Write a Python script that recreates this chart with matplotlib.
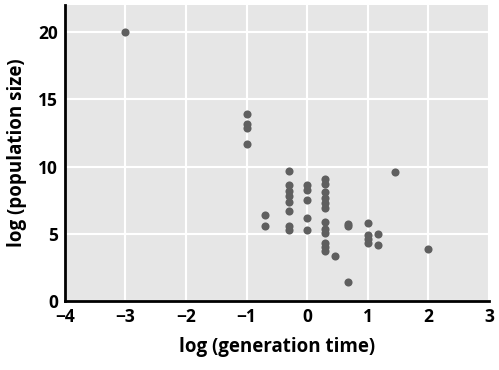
import matplotlib
matplotlib.use('Agg')
import matplotlib.pyplot as plt

# data
gen_time = [-3,
            -1, -1, -1, -1,
            -0.7, -0.7,
            -0.3, -0.3, -0.3, -0.3, -0.3, -0.3, -0.3, -0.3,
            0, 0, 0, 0, 0,
            0.3, 0.3, 0.3, 0.3, 0.3, 0.3, 0.3, 0.3, 0.3, 0.3, 0.3, 0.3,
            0.45,
            0.68, 0.68, 0.68,
            1, 1, 1, 1,
            1.17, 1.17,
            1.45,
            2]
pop_size = [20,
            13.9, 13.2, 12.9, 11.7,
            6.4, 5.6,
            9.7, 8.6, 8.2, 7.8, 7.4, 6.7, 5.6, 5.3,
            8.6, 8.3, 7.55, 6.2, 5.3,
            9.1, 8.7, 8.1, 7.7, 7.3, 6.9, 5.9, 5.4, 5.1, 4.3, 4.0, 3.7,
            3.35,
            5.75, 5.6, 1.4,
            5.8, 4.95, 4.65, 4.3,
            5.0, 4.2,
            9.6,
            3.9]
xticks = [-4, -3, -2, -1, 0, 1, 2, 3]
yticks = [0, 5, 10, 15, 20]

plt.rcParams['font.family'] = ['Open Sans', 'DejaVu Sans']

fig = plt.figure(figsize=(4.99, 3.70), dpi=100)
ax = fig.add_axes([0.130, 0.186, 0.850, 0.800])
ax.set_facecolor('#e6e6e6')

ax.scatter(gen_time, pop_size, s=34, color='#5f5f5f', linewidths=0, zorder=3)

ax.set_xlim(-4, 3)
ax.set_ylim(0, 22)
ax.set_xticks(xticks)
ax.set_yticks(yticks)
ax.set_xticklabels([str(t).replace('-', '\u2212') for t in xticks], fontweight='bold', fontsize=12.5)
ax.set_yticklabels([str(t) for t in yticks], fontweight='bold', fontsize=12.5)
ax.tick_params(length=0, pad=5)
ax.grid(True, color='white', linewidth=1.5, zorder=1)
ax.set_axisbelow(True)

for side in ['top', 'right']:
    ax.spines[side].set_visible(False)
for side in ['left', 'bottom']:
    ax.spines[side].set_linewidth(2)
    ax.spines[side].set_color('black')

ax.set_xlabel('log (generation time)', fontweight='bold', fontsize=13.5, labelpad=8)
ax.set_ylabel('log (population size)', fontweight='bold', fontsize=13.5, labelpad=8)

plt.savefig('out.png', dpi=100)
